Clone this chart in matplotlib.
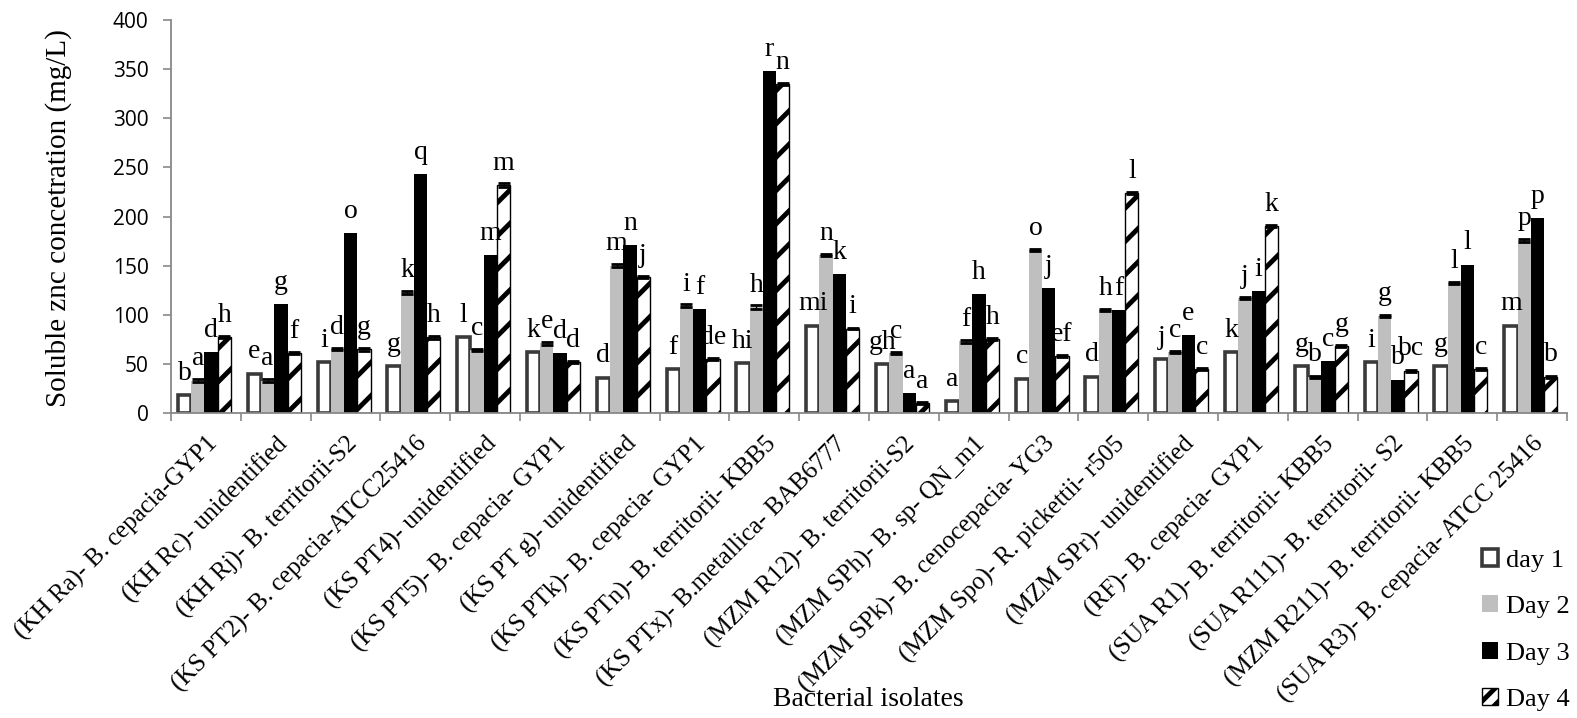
import numpy as np
import matplotlib.pyplot as plt
from matplotlib.patches import Patch

# isolates and soluble zinc values (mg/L)
isolates = [
    "(KH Ra)- B. cepacia-GYP1", "(KH Rc)- unidentified", "(KH Rj)- B. territorii-S2",
    "(KS PT2)- B. cepacia-ATCC25416", "(KS PT4)- unidentified", "(KS PT5)- B. cepacia- GYP1",
    "(KS PT g)- unidentified", "(KS PTk)- B. cepacia- GYP1", "(KS PTn)- B. territorii- KBB5",
    "(KS PTx)- B.metallica- BAB6777", "(MZM R12)- B. territorii-S2", "(MZM SPh)- B. sp- QN_m1",
    "(MZM SPk)- B. cenocepacia- YG3", "(MZM Spo)- R. pickettii- r505", "(MZM SPr)- unidentified",
    "(RF)- B. cepacia- GYP1", "(SUA R1)- B. territorii- KBB5", "(SUA R111)- B. territorii- S2",
    "(MZM R211)- B. territorii- KBB5", "(SUA R3)- B. cepacia- ATCC 25416",
]
day1 = [18, 40, 52, 48, 77, 62, 36, 45, 51, 89, 50, 12, 35, 37, 55, 62, 48, 52, 48, 89]
day2 = [33, 33, 65, 123, 64, 71, 150, 109, 108, 161, 61, 73, 166, 105, 62, 117, 37, 99, 132, 176]
day3 = [62, 111, 183, 243, 161, 61, 171, 106, 348, 141, 20, 121, 127, 105, 79, 124, 53, 34, 151, 198]
day4 = [77, 61, 65, 77, 232, 52, 138, 55, 335, 86, 10, 75, 58, 224, 45, 190, 68, 43, 45, 37]
err2 = [1.5, 1.5, 1.0, 1.5, 1.0, 1.5, 1.5, 1.5, 2.0, 1.0, 1.0, 1.5, 1.0, 1.0, 1.0, 1.0, 1.0, 1.0, 1.0, 1.5]
err4 = [1.0, 1.0, 1.5, 1.5, 2.0, 1.0, 1.0, 1.0, 1.0, 1.0, 1.0, 1.0, 1.0, 1.0, 1.0, 1.0, 1.0, 1.0, 1.0, 1.0]

let1 = ["b", "e", "i", "g", "l", "k", "d", "f", "hi", "mi", "gh", "a", "c", "d", "j", "k", "g", "i", "g", "m"]
let2 = ["a", "a", "d", "k", "c", "e", "m", "i", "h", "n", "c", "f", "o", "h", "c", "j", "b", "g", "l", "p"]
let3 = ["d", "g", "o", "q", "m", "d", "n", "f", "r", "k", "a", "h", "j", "f", "e", "i", "c", "b", "l", "p"]
let4 = ["h", "f", "g", "h", "m", "d", "j", "de", "n", "i", "a", "h", "ef", "l", "c", "k", "g", "bc", "c", "b"]

series_names = ["day 1", "Day 2", "Day 3", "Day 4"]

plt.rcParams['font.family'] = ['Liberation Serif', 'DejaVu Serif']
plt.rcParams['hatch.linewidth'] = 3.5

fig = plt.figure(figsize=(15.77, 7.18), dpi=100)
ax = fig.add_axes([0.1084, 0.4248, 0.8853, 0.5473])

x = np.arange(len(isolates))
w = 0.19
styles = [
    dict(color="white", edgecolor="#3a3a3a", linewidth=2.6),
    dict(color="#bfbfbf", edgecolor="none", linewidth=0),
    dict(color="black", edgecolor="black", linewidth=0),
    dict(color="white", edgecolor="black", linewidth=1.0, hatch="/"),
]
values = [day1, day2, day3, day4]
letters = [let1, let2, let3, let4]
handles = []
for k in range(4):
    pos = x + (k - 1.5) * w - 0.02
    b = ax.bar(pos, values[k], w, zorder=2, **styles[k])
    handles.append(b)
    if k == 1:
        ax.errorbar(pos, values[k], yerr=err2, fmt="none", ecolor="black",
                    capsize=4.3, capthick=2, elinewidth=1, zorder=3)
    if k == 3:
        ax.errorbar(pos, values[k], yerr=err4, fmt="none", ecolor="black",
                    capsize=4.3, capthick=2, elinewidth=1, zorder=3)
    for xi, v, t in zip(pos, values[k], letters[k]):
        ax.annotate(t, (xi, v), xytext=(0, 11), textcoords="offset points",
                    ha="center", va="baseline", fontsize=20)

# small legend box needs a denser hatch to show the stripe
handles[3] = Patch(facecolor="white", edgecolor="black", linewidth=1.0, hatch="//")

ax.set_xlim(-0.5, len(isolates) - 0.5)
ax.set_ylim(0, 400)
ax.set_yticks(np.arange(0, 401, 50))
for lab in ax.get_yticklabels():
    lab.set_fontfamily(["Open Sans", "DejaVu Sans"])
    lab.set_fontsize(15)
ax.tick_params(axis="y", length=6, width=1.2, color="#888888", pad=10)

ax.set_xticks(x)
ax.set_xticklabels(isolates, rotation=45, ha="right", va="top",
                   rotation_mode="anchor", fontsize=18)
ax.set_xticks(np.arange(-0.5, len(isolates), 1), minor=True)
ax.tick_params(axis="x", which="major", length=0, pad=14)
ax.tick_params(axis="x", which="minor", length=6, width=1.2, color="#888888")

for s in ["top", "right"]:
    ax.spines[s].set_visible(False)
for s in ["left", "bottom"]:
    ax.spines[s].set_color("#888888")
    ax.spines[s].set_linewidth(1.3)

fig.text(59 / 1577, 1 - 218 / 718, "Soluble znc concetration (mg/L)", rotation=90,
         fontsize=21, ha="center", va="center")
fig.text(868 / 1577, 1 - 699 / 718, "Bacterial isolates", fontsize=20,
         ha="center", va="center")

fig.legend(handles, series_names, loc="center left",
           bbox_to_anchor=(1482 / 1577, 1 - 630 / 718), frameon=False, fontsize=19,
           handlelength=0.6, handleheight=0.6, handletextpad=0.3,
           labelspacing=0.9, borderpad=0, borderaxespad=0)

fig.savefig("out.png", dpi=100)
